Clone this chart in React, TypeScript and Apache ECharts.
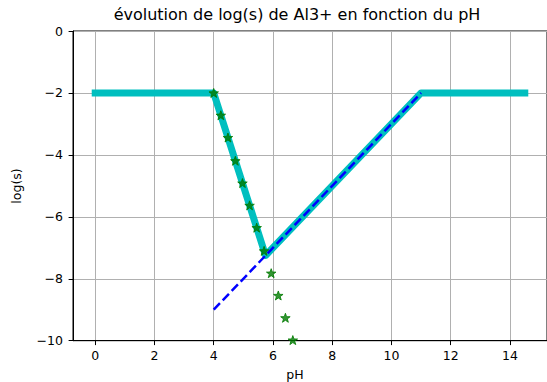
import React, { useEffect, useRef } from "react";
import * as echarts from "echarts";

// Data
const cyanX = [0, 4, 5.75, 11, 14.5];
const cyanY = [-2, -2, -7.25, -2, -2];
const blueX = [4, 11];
const blueY = [-9, -2];
const starX = [4.0, 4.24, 4.48, 4.73, 4.97, 5.21, 5.45, 5.7, 5.94, 6.18, 6.42, 6.67];
const starY = [-2, -2.72, -3.44, -4.19, -4.91, -5.63, -6.35, -7.1, -7.82, -8.54, -9.26, -9.98];
const xTicks = [0, 2, 4, 6, 8, 10, 12, 14];
const yTicks = [0, -2, -4, -6, -8, -10];

const titleText = "évolution de log(s) de Al3+ en fonction du pH";
const xLabel = "pH";
const yLabel = "log(s)";

const FONT = "DejaVu Sans";
const STAR =
  "path://M0,-10 L2.35,-3.24 L9.51,-3.09 L3.8,1.24 L5.88,8.09 L0,4 L-5.88,8.09 L-3.8,1.24 L-9.51,-3.09 L-2.35,-3.24 Z";

const fmt = (v: number) => String(v).replace("-", "\u2212");

export default function App() {
  const ref = useRef<HTMLDivElement>(null);
  useEffect(() => {
    if (!ref.current) return;
    const chart = echarts.init(ref.current, null, { renderer: "svg" });
    const zip = (xs: number[], ys: number[]) => xs.map((x, i) => [x, ys[i]]);
    chart.setOption({
      animation: false,
      backgroundColor: "#ffffff",
      grid: {
        left: 73,
        top: 31,
        width: 476,
        height: 309.7,
        show: true,
        borderColor: "#000",
        borderWidth: 1,
        backgroundColor: "transparent",
      },
      xAxis: {
        type: "value",
        min: -0.75,
        max: 15.25,
        axisLine: { show: true, onZero: false, lineStyle: { color: "#000", width: 1 } },
        axisTick: { show: true, customValues: xTicks, length: 4.4, lineStyle: { color: "#000" } },
        axisLabel: {
          customValues: xTicks,
          formatter: fmt,
          color: "#000",
          fontFamily: FONT,
          fontSize: 12.5,
          margin: 8.5,
        },
        splitLine: { show: true, lineStyle: { color: "#b0b0b0", width: 1 } },
      },
      yAxis: {
        type: "value",
        min: -10,
        max: 0,
        interval: 2,
        axisLine: { show: true, onZero: false, lineStyle: { color: "#000", width: 1 } },
        axisTick: { show: true, length: 4.4, lineStyle: { color: "#000" } },
        axisLabel: {
          formatter: fmt,
          color: "#000",
          fontFamily: FONT,
          fontSize: 12.5,
          margin: 10,
        },
        splitLine: { show: true, lineStyle: { color: "#b0b0b0", width: 1 } },
      },
      series: [
        {
          type: "line",
          data: zip(cyanX, cyanY),
          showSymbol: false,
          symbol: "none",
          lineStyle: { color: "#00bfbf", width: 7, cap: "square", join: "round" },
          z: 2,
        },
        {
          type: "scatter",
          data: zip(starX, starY),
          symbol: STAR,
          symbolKeepAspect: true,
          symbolSize: 9.5,
          itemStyle: { color: "#007a00", borderColor: "#007a00", borderWidth: 1 },
          clip: false,
          z: 3,
        },
        {
          type: "line",
          data: zip(blueX, blueY),
          showSymbol: false,
          symbol: "none",
          lineStyle: { color: "#0000ff", width: 2.5, type: [9, 4] },
          z: 4,
        },
      ],
      graphic: [
        {
          type: "text",
          x: 297,
          y: 14,
          style: {
            text: titleText,
            fill: "#000",
            font: `16px "${FONT}"`,
            align: "center",
            verticalAlign: "middle",
          },
        },
        {
          type: "text",
          x: 295,
          y: 374,
          style: {
            text: xLabel,
            fill: "#000",
            font: `12.5px "${FONT}"`,
            align: "center",
            verticalAlign: "middle",
          },
        },
        {
          type: "text",
          x: 16,
          y: 186,
          rotation: Math.PI / 2,
          style: {
            text: yLabel,
            fill: "#000",
            font: `12.5px "${FONT}"`,
            align: "center",
            verticalAlign: "middle",
          },
        },
      ],
    });
    return () => chart.dispose();
  }, []);
  return (
    <div
      ref={ref}
      style={{ position: "fixed", left: 0, top: 0, width: 547, height: 382 }}
    />
  );
}
